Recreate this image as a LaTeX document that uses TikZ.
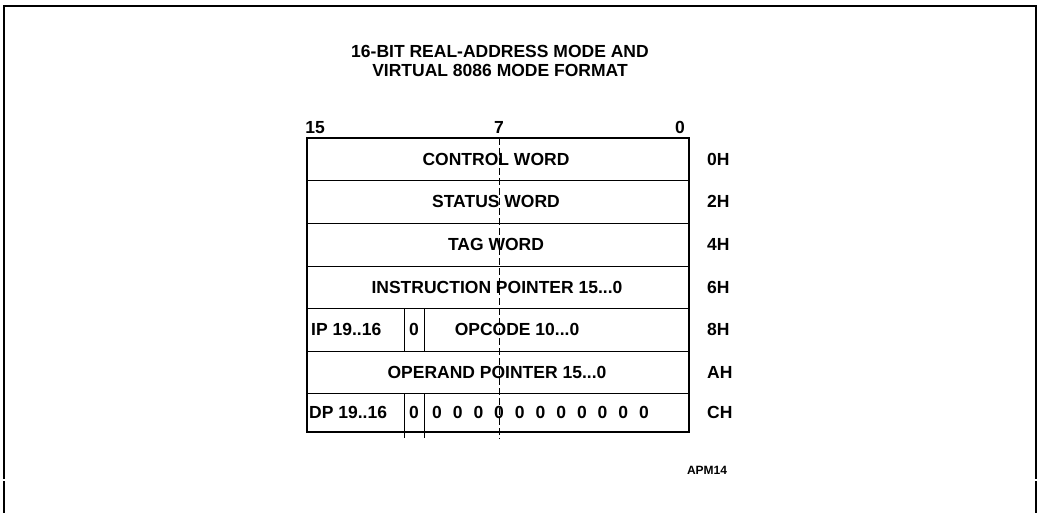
\documentclass[tikz,border=0pt]{standalone}
\usepackage{fontspec}
\setmainfont{Liberation Sans}
\begin{document}
\begin{tikzpicture}[x=1pt,y=-1pt,
  frame/.style={line width=2.8pt},
  boxout/.style={line width=1.9pt},
  rowline/.style={line width=0.9pt},
  centerline/.style={line width=0.9pt, dash pattern=on 7pt off 3pt},
  lbl/.style={inner sep=0pt, font=\fontsize{17.5}{19.5}\selectfont\bfseries},
  small/.style={inner sep=0pt, font=\fontsize{12}{14}\selectfont\bfseries}]
\useasboundingbox (0,0) rectangle (1038,513);
% outer frame (open at bottom)
\coordinate (fl1) at (4,479);
\coordinate (fl2) at (4,481);
\coordinate (fr1) at (1036,479);
\coordinate (fr2) at (1036,481);
\draw[frame] (fl1) -- (4,6) -- (1036,6) -- (fr1);
\draw[frame] (fl2) -- (4,513);
\draw[frame] (fr2) -- (1036,513);
% title
\node[lbl, align=center] (title) at (500,61) {16-BIT REAL-ADDRESS MODE AND\\[-1pt]VIRTUAL 8086 MODE FORMAT};
% bit labels
\node[lbl, anchor=base] (b15) at (315,134) {15};
\node[lbl, anchor=base] (b7) at (499,134) {7};
\node[lbl, anchor=base] (b0) at (680,134) {0};
% box
\coordinate (tl) at (307,138);
\coordinate (br) at (689,432);
\foreach \y/\n in {180/a,223/b,266/c,308/d,351/e,393/f}{
  \coordinate (L\n) at (307,\y);
  \coordinate (R\n) at (689,\y);
  \draw[rowline] (L\n) -- (R\n);
}
% dividers
\coordinate (d1t) at (404,308); \coordinate (d1b) at (404,351);
\coordinate (d2t) at (424,308); \coordinate (d2b) at (424,351);
\coordinate (d3t) at (404,393); \coordinate (d3b) at (404,438);
\coordinate (d4t) at (424,393); \coordinate (d4b) at (424,438);
\draw[rowline] (d1t) -- (d1b);
\draw[rowline] (d2t) -- (d2b);
\draw[rowline] (d3t) -- (d3b);
\draw[rowline] (d4t) -- (d4b);
% center dashed line
\coordinate (ct) at (499,138);
\coordinate (cb) at (499,439);
\draw[centerline] (ct) -- (cb);
\draw[boxout] (tl) rectangle (br);
% row texts
\node[lbl] (r0) at (496,159) {CONTROL WORD};
\node[lbl] (r1) at (496,201.5) {STATUS WORD};
\node[lbl] (r2) at (496,244.5) {TAG WORD};
\node[lbl] (r3) at (497,287) {INSTRUCTION POINTER 15...0};
\node[lbl, anchor=west] (ip) at (311,329.5) {IP 19..16};
\node[lbl] (ip0) at (414,329.5) {0};
\node[lbl] (opc) at (517,329.5) {OPCODE 10...0};
\node[lbl] (r5) at (497,372) {OPERAND POINTER 15...0};
\node[lbl, anchor=west] (dp) at (309,412.5) {DP 19..16};
\node[lbl] (dp0) at (414,412.5) {0};
\foreach \k in {0,...,10}{
  \node[lbl] (z\k) at (437+20.7*\k,412.5) {0};
}
% offsets
\foreach \t/\y/\n in {0H/159/o0,2H/201.5/o2,4H/244.5/o4,6H/287/o6,8H/329.5/o8,AH/372/oA,CH/412.5/oC}{
  \node[lbl, anchor=west] (\n) at (707,\y) {\t};
}
\node[small] (apm) at (707,470) {APM14};
\end{tikzpicture}
\end{document}
